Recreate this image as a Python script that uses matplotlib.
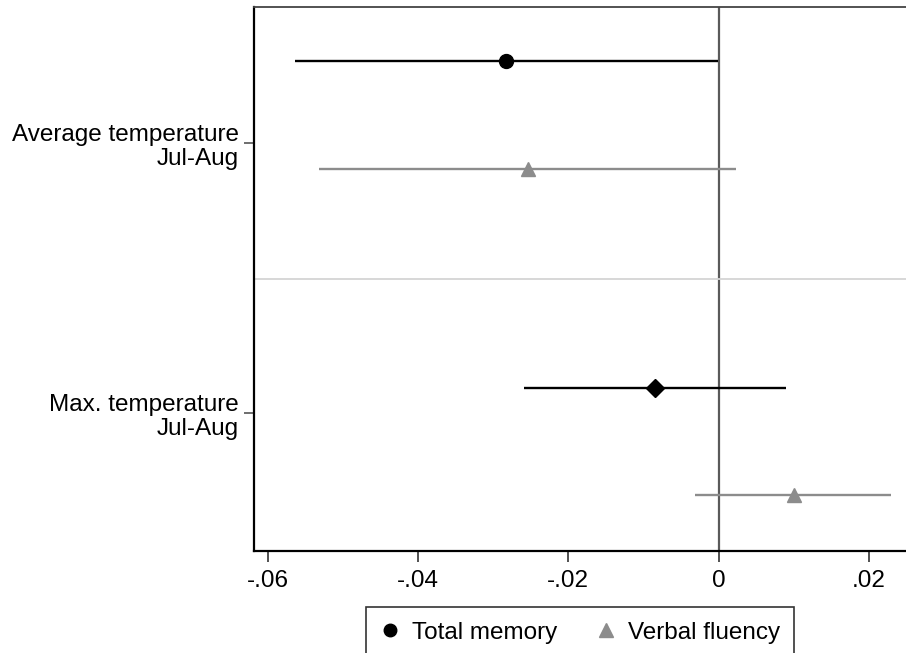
import matplotlib
matplotlib.use("Agg")
import matplotlib.pyplot as plt
from matplotlib.lines import Line2D

plt.rcParams["font.family"] = ["Liberation Sans", "DejaVu Sans"]

# coefficient estimates
categories = ["Average temperature\nJul-Aug", "Max. temperature\nJul-Aug"]
cat_pos = [1.0, 2.0]

memory_coef = [-0.0283, -0.0085]
memory_lo = [-0.0563, -0.0259]
memory_hi = [-0.0001, 0.0090]
memory_pos = [0.696, 1.907]
memory_marker = ["o", "D"]

verbal_coef = [-0.0254, 0.0100]
verbal_lo = [-0.0532, -0.0031]
verbal_hi = [0.0023, 0.0229]
verbal_pos = [1.096, 2.304]

xticks = [-0.06, -0.04, -0.02, 0, 0.02]
xticklabels = ["-.06", "-.04", "-.02", "0", ".02"]

BLACK = "#000000"
GRAY = "#8c8c8c"
FS = 17.5


def main():
	fig = plt.figure(figsize=(9.06, 6.53), dpi=100)
	ax = fig.add_axes([0.2804, 0.1562, 0.7196, 0.8331])

	ax.axvline(0, color="#5a5a5a", lw=1.6, zorder=1)
	ax.axhline(1.504, color="#d4d4d4", lw=1.3, zorder=1)

	for i in range(len(categories)):
		ax.hlines(memory_pos[i], memory_lo[i], memory_hi[i], color=BLACK,
			lw=1.7, zorder=2)
		ax.plot(memory_coef[i], memory_pos[i], marker=memory_marker[i],
			color=BLACK, ms=10 if memory_marker[i] == "o" else 9.5,
			ls="none", zorder=3)
		ax.hlines(verbal_pos[i], verbal_lo[i], verbal_hi[i], color=GRAY,
			lw=1.7, zorder=2)
		ax.plot(verbal_coef[i], verbal_pos[i], marker="^", color=GRAY,
			ms=10, ls="none", zorder=3)

	ax.set_xlim(-0.0618, 0.0249)
	ax.set_ylim(2.511, 0.496)
	ax.set_xticks(xticks)
	ax.set_xticklabels(xticklabels, fontsize=FS)
	ax.set_yticks(cat_pos)
	ax.set_yticklabels(categories, fontsize=FS, ha="right",
		linespacing=1.12)
	ax.tick_params(axis="x", length=8, width=1.2, color="#333333", pad=6)
	ax.tick_params(axis="y", length=7, width=1.2, color="#555555", pad=4)

	ax.spines["right"].set_visible(False)
	ax.spines["left"].set_linewidth(1.6)
	ax.spines["bottom"].set_linewidth(1.6)
	ax.spines["top"].set_linewidth(1.3)
	ax.spines["top"].set_color("#444444")

	handles = [
		Line2D([], [], marker="o", color=BLACK, ls="none", ms=9),
		Line2D([], [], marker="^", color=GRAY, ls="none", ms=10),
	]
	leg = fig.legend(handles, ["Total memory", "Verbal fluency"],
		loc="upper center", bbox_to_anchor=(580 / 906, 1 - 607 / 653),
		ncol=2, fontsize=FS, frameon=True, fancybox=False,
		edgecolor="black", handlelength=0.8, handletextpad=0.5,
		columnspacing=1.6, borderpad=0.6, borderaxespad=0)
	leg.get_frame().set_linewidth(1.2)

	fig.savefig("out.png", dpi=100)


if __name__ == "__main__":
	main()
